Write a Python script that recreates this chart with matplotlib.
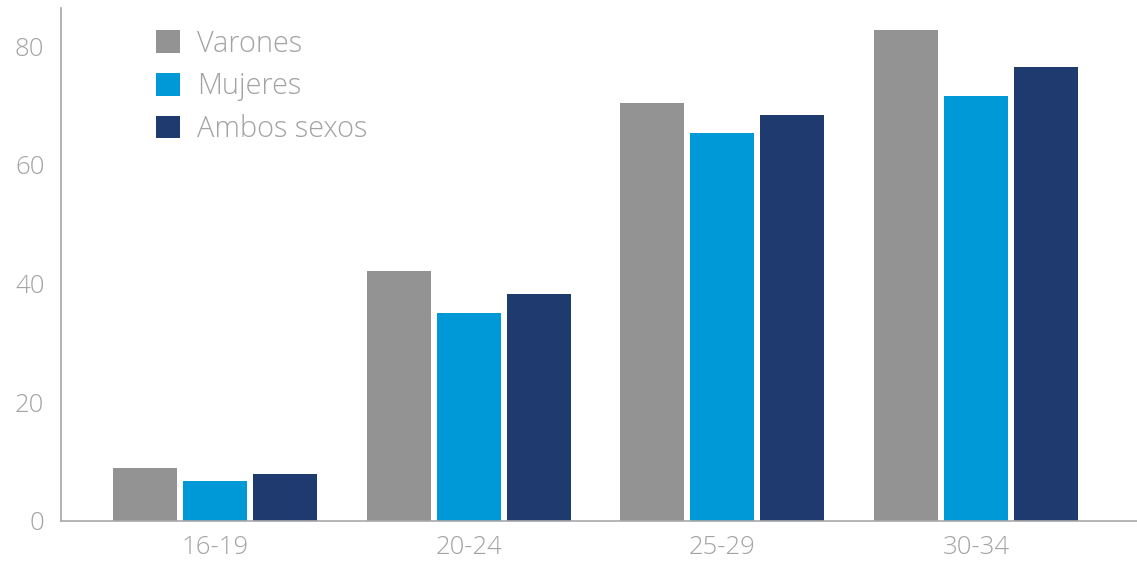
import matplotlib
matplotlib.use("Agg")
import matplotlib.pyplot as plt
import numpy as np

# Age groups and shares per group
categories = ["16-19", "20-24", "25-29", "30-34"]
series_names = ["Varones", "Mujeres", "Ambos sexos"]
varones = [8.9, 42.1, 70.4, 82.7]
mujeres = [6.7, 35.0, 65.3, 71.6]
ambos = [7.9, 38.2, 68.4, 76.5]
y_ticks = [0, 20, 40, 60, 80]

colors = ["#939393", "#0099d7", "#1f3a6f"]
text_color = "#a3a3a3"
axis_color = "#a8a8a8"

plt.rcParams["font.family"] = ["Open Sans", "DejaVu Sans"]

W, H = 1137, 565
fig = plt.figure(figsize=(W / 100, H / 100), dpi=100)
ax_left, ax_right, ax_bottom, ax_top = 61, 1137, 521, 8
ax = fig.add_axes([ax_left / W, (H - ax_bottom) / H,
                   (ax_right - ax_left) / W, (ax_bottom - ax_top) / H])

x = np.arange(len(categories))
width = 0.2523
step = 0.276
for i, (vals, name) in enumerate(zip([varones, mujeres, ambos], series_names)):
    ax.bar(x + (i - 1) * step, vals, width=width, color=colors[i], label=name,
           zorder=2)

ax.set_xlim(-0.607, 3.634)
ax.set_ylim(0, 86.4)
ax.set_xticks(x)
ax.set_xticklabels(categories)
ax.set_yticks(y_ticks)

for s in ["top", "right"]:
    ax.spines[s].set_visible(False)
for s in ["left", "bottom"]:
    ax.spines[s].set_color(axis_color)
    ax.spines[s].set_linewidth(1.2)

ax.tick_params(axis="both", length=0, labelsize=18.5, colors=text_color)
ax.tick_params(axis="y", pad=12)
ax.tick_params(axis="x", pad=10)
for lab in ax.get_xticklabels() + ax.get_yticklabels():
    lab.set_fontweight("light")

leg = ax.legend(loc="upper left",
                bbox_to_anchor=(156 / W, (H - 29) / H),
                bbox_transform=fig.transFigure,
                frameon=False, fontsize=20.8, handlelength=0.83,
                handleheight=0.83, handletextpad=0.6, labelspacing=0.46,
                borderpad=0, borderaxespad=0)
for t in leg.get_texts():
    t.set_color(text_color)
    t.set_fontweight("light")

fig.savefig("out.png", dpi=100)
